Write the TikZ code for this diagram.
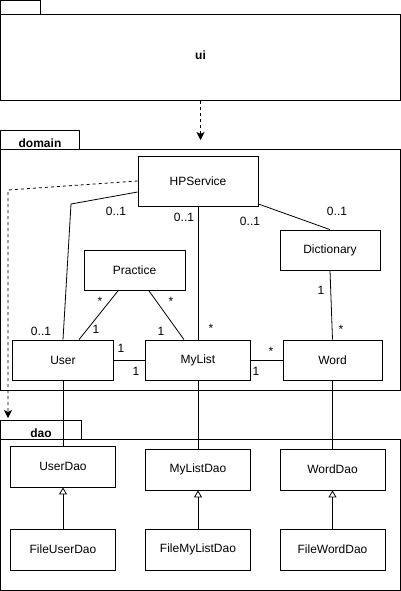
\documentclass[tikz,border=0pt]{standalone}
\usepackage{fontspec}
\setmainfont{Liberation Sans}
\usetikzlibrary{arrows.meta}

\begin{document}
\begin{tikzpicture}[x=1pt,y=-1pt,line width=0.8pt,
		font=\fontsize{12}{14}\selectfont,
		cls/.style={draw,minimum width=101pt,minimum height=40pt,inner sep=0pt},
		pkg/.style={draw,inner sep=0pt},
		pkgname/.style={font=\fontsize{12}{14}\selectfont\bfseries},
		mult/.style={anchor=base,inner sep=0pt},
		dep/.style={dashed,-{Stealth[length=8pt,width=8pt,inset=2pt]}},
		impl/.style={-{Triangle[open,length=7pt,width=8pt]}}]
		\useasboundingbox (0,0) rectangle (401,591);
		%
		\node[pkg,minimum width=40pt,minimum height=14pt] (uitab) at (20.5,7.5) {};
		\node[pkg,pkgname,minimum width=400pt,minimum height=86pt,text height=5pt,text depth=0pt] (ui) at (200.5,57.5) {ui};
		\node[pkg,pkgname,minimum width=79pt,minimum height=19pt,text height=15pt,text depth=0pt] (domaintab) at (40,139.5) {domain};
		\node[pkg,minimum width=400pt,minimum height=241pt] (domain) at (200.5,269.5) {};
		\node[pkg,pkgname,minimum width=81pt,minimum height=19pt,text height=15pt,text depth=0pt] (daotab) at (41,429.5) {dao};
		\node[pkg,minimum width=400pt,minimum height=151pt] (dao) at (200.5,514.5) {};
		%
		\node[cls,minimum width=120pt,minimum height=50pt] (hp) at (198,181) {HPService};
		\node[cls] (prac) at (134.5,270.5) {Practice};
		\node[cls,minimum width=100pt] (dict) at (330,250) {Dictionary};
		\node[cls] (user) at (63,360) {User};
		\node[cls,minimum width=105pt] (mylist) at (198,360) {MyList};
		\node[cls,minimum width=99pt] (word) at (332.5,360) {Word};
		%
		\node[cls,minimum width=105pt,minimum height=41pt] (userdao) at (63,466.5) {UserDao};
		\node[cls,minimum width=105pt,minimum height=41pt] (mylistdao) at (198,469.5) {MyListDao};
		\node[cls,minimum width=105pt,minimum height=41pt] (worddao) at (332.5,469.5) {WordDao};
		\node[cls,minimum width=105pt,minimum height=41pt] (fileuserdao) at (63,549.5) {FileUserDao};
		\node[cls,minimum width=105pt,minimum height=41pt] (filemylistdao) at (198,549.5) {FileMyListDao};
		\node[cls,minimum width=105pt,minimum height=41pt] (fileworddao) at (332.5,549.5) {FileWordDao};
		%
		\coordinate (domaintip) at (200.5,140);
		\coordinate (daocorner) at (8,190);
		\coordinate (daotip) at (8,418);
		\coordinate (usercorner) at (71,204);
		%
		\draw[dep] (ui.south) -- (domaintip);
		\draw[dep] (hp.west) -- (daocorner) -- (daotip);
		\draw ([yshift=-11pt]hp.west) -- (usercorner) -- (user.north);
		\path
		(hp.south) edge (mylist.north)
		([yshift=-23pt]hp.east) edge (dict.north)
		([xshift=-16.5pt]prac.south) edge ([xshift=16pt]user.north)
		([xshift=14.5pt]prac.south) edge ([xshift=-14pt]mylist.north)
		(dict.south) edge (word.north)
		(user.east) edge (mylist.west)
		(mylist.east) edge (word.west)
		(user.south) edge (userdao.north)
		(mylist.south) edge (mylistdao.north)
		(word.south) edge (worddao.north);
		\path[impl]
		(fileuserdao.north) edge (userdao.south)
		(filemylistdao.north) edge (mylistdao.south)
		(fileworddao.north) edge (worddao.south);
		%
		\node[mult] (mhpuser) at (116,215) {0..1};
		\node[mult] (muserhp) at (41,335) {0..1};
		\node[mult] (mhplist) at (184,221) {0..1};
		\node[mult] (mlisthp) at (211,332) {*};
		\node[mult] (mhpdict) at (250,225) {0..1};
		\node[mult] (mdicthp) at (337,215) {0..1};
		\node[mult] (mpracuser) at (100,305) {*};
		\node[mult] (muserprac) at (96,333) {1};
		\node[mult] (mpraclist) at (171,305) {*};
		\node[mult] (mlistprac) at (161,335) {1};
		\node[mult] (mdictword) at (321,294) {1};
		\node[mult] (mworddict) at (341,333) {*};
		\node[mult] (muserlist) at (121,352.5) {1};
		\node[mult] (mlistuser) at (136,375) {1};
		\node[mult] (mlistword) at (256,375) {1};
		\node[mult] (mwordlist) at (271,355) {*};
\end{tikzpicture}
\end{document}
